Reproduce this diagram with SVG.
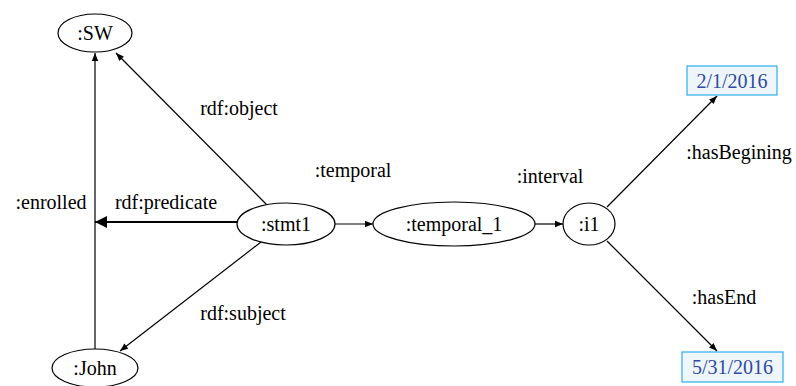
<svg xmlns="http://www.w3.org/2000/svg" width="796" height="386" viewBox="0 0 796 386">
  <style>
    .node { fill: #ffffff; stroke: #000000; stroke-width: 1.2; }
    .lit { fill: #eef6fc; stroke: #3cb4ea; stroke-width: 1.3; }
    .edge { fill: none; stroke: #000000; stroke-width: 1.2; }
    .thick { fill: none; stroke: #000000; stroke-width: 2.2; }
    .label { font-family: "Liberation Serif", "DejaVu Serif", Tinos, "Times New Roman", serif; font-size: 20px; fill: #000000; text-anchor: middle; dominant-baseline: central; }
    .date { fill: #2f4a9e; }
  </style>
  <defs>
    <marker id="arrow" viewBox="0 0 10 10" refX="10" refY="5" markerWidth="11" markerHeight="8" markerUnits="userSpaceOnUse" orient="auto">
      <path d="M0,1 L10,5 L0,9 z" fill="#000000"/>
    </marker>
    <marker id="arrowBig" viewBox="0 0 10 10" refX="10" refY="5" markerWidth="16" markerHeight="12" markerUnits="userSpaceOnUse" orient="auto">
      <path d="M0,0 L10,5 L0,10 z" fill="#000000"/>
    </marker>
  </defs>

  <!-- connectors -->
  <g id="edges">
    <line class="edge" x1="95" y1="349" x2="95" y2="53" marker-end="url(#arrow)"/>
    <line class="edge" x1="267" y1="205" x2="116" y2="53" marker-end="url(#arrow)"/>
    <line class="edge" x1="261" y1="242" x2="120" y2="351" marker-end="url(#arrow)"/>
    <line class="thick" x1="237" y1="222" x2="95" y2="222" marker-end="url(#arrowBig)"/>
    <line class="edge" x1="335" y1="224" x2="373" y2="224" marker-end="url(#arrow)"/>
    <line class="edge" x1="535" y1="224" x2="563" y2="224" marker-end="url(#arrow)"/>
    <line class="edge" x1="607" y1="207" x2="717" y2="96" marker-end="url(#arrow)"/>
    <line class="edge" x1="607" y1="241" x2="717" y2="351" marker-end="url(#arrow)"/>
  </g>

  <!-- edge labels -->
  <g id="edge-labels">
    <text class="label" x="239" y="108">rdf:object</text>
    <text class="label" x="51" y="202">:enrolled</text>
    <text class="label" x="166" y="202">rdf:predicate</text>
    <text class="label" x="353" y="170">:temporal</text>
    <text class="label" x="243" y="313">rdf:subject</text>
    <text class="label" x="550" y="176">:interval</text>
    <text class="label" x="739" y="152">:hasBegining</text>
    <text class="label" x="724" y="297">:hasEnd</text>
  </g>

  <g id="sw">
    <ellipse class="node" cx="95" cy="33" rx="37" ry="19"/>
    <text class="label" x="95" y="33">:SW</text>
  </g>
  <g id="john">
    <ellipse class="node" cx="95" cy="368" rx="43" ry="19"/>
    <text class="label" x="95" y="368">:John</text>
  </g>
  <g id="stmt1">
    <ellipse class="node" cx="286" cy="224" rx="49" ry="21"/>
    <text class="label" x="286" y="224">:stmt1</text>
  </g>
  <g id="temporal1">
    <ellipse class="node" cx="454" cy="224" rx="81" ry="22"/>
    <text class="label" x="454" y="224">:temporal_1</text>
  </g>
  <g id="i1">
    <ellipse class="node" cx="589" cy="224" rx="26" ry="21"/>
    <text class="label" x="589" y="224">:i1</text>
  </g>
  <g id="begin-date">
    <rect class="lit" x="687" y="66" width="90" height="29"/>
    <text class="label date" x="732" y="80.5">2/1/2016</text>
  </g>
  <g id="end-date">
    <rect class="lit" x="682" y="352" width="101" height="30"/>
    <text class="label date" x="732.5" y="367">5/31/2016</text>
  </g>
</svg>
